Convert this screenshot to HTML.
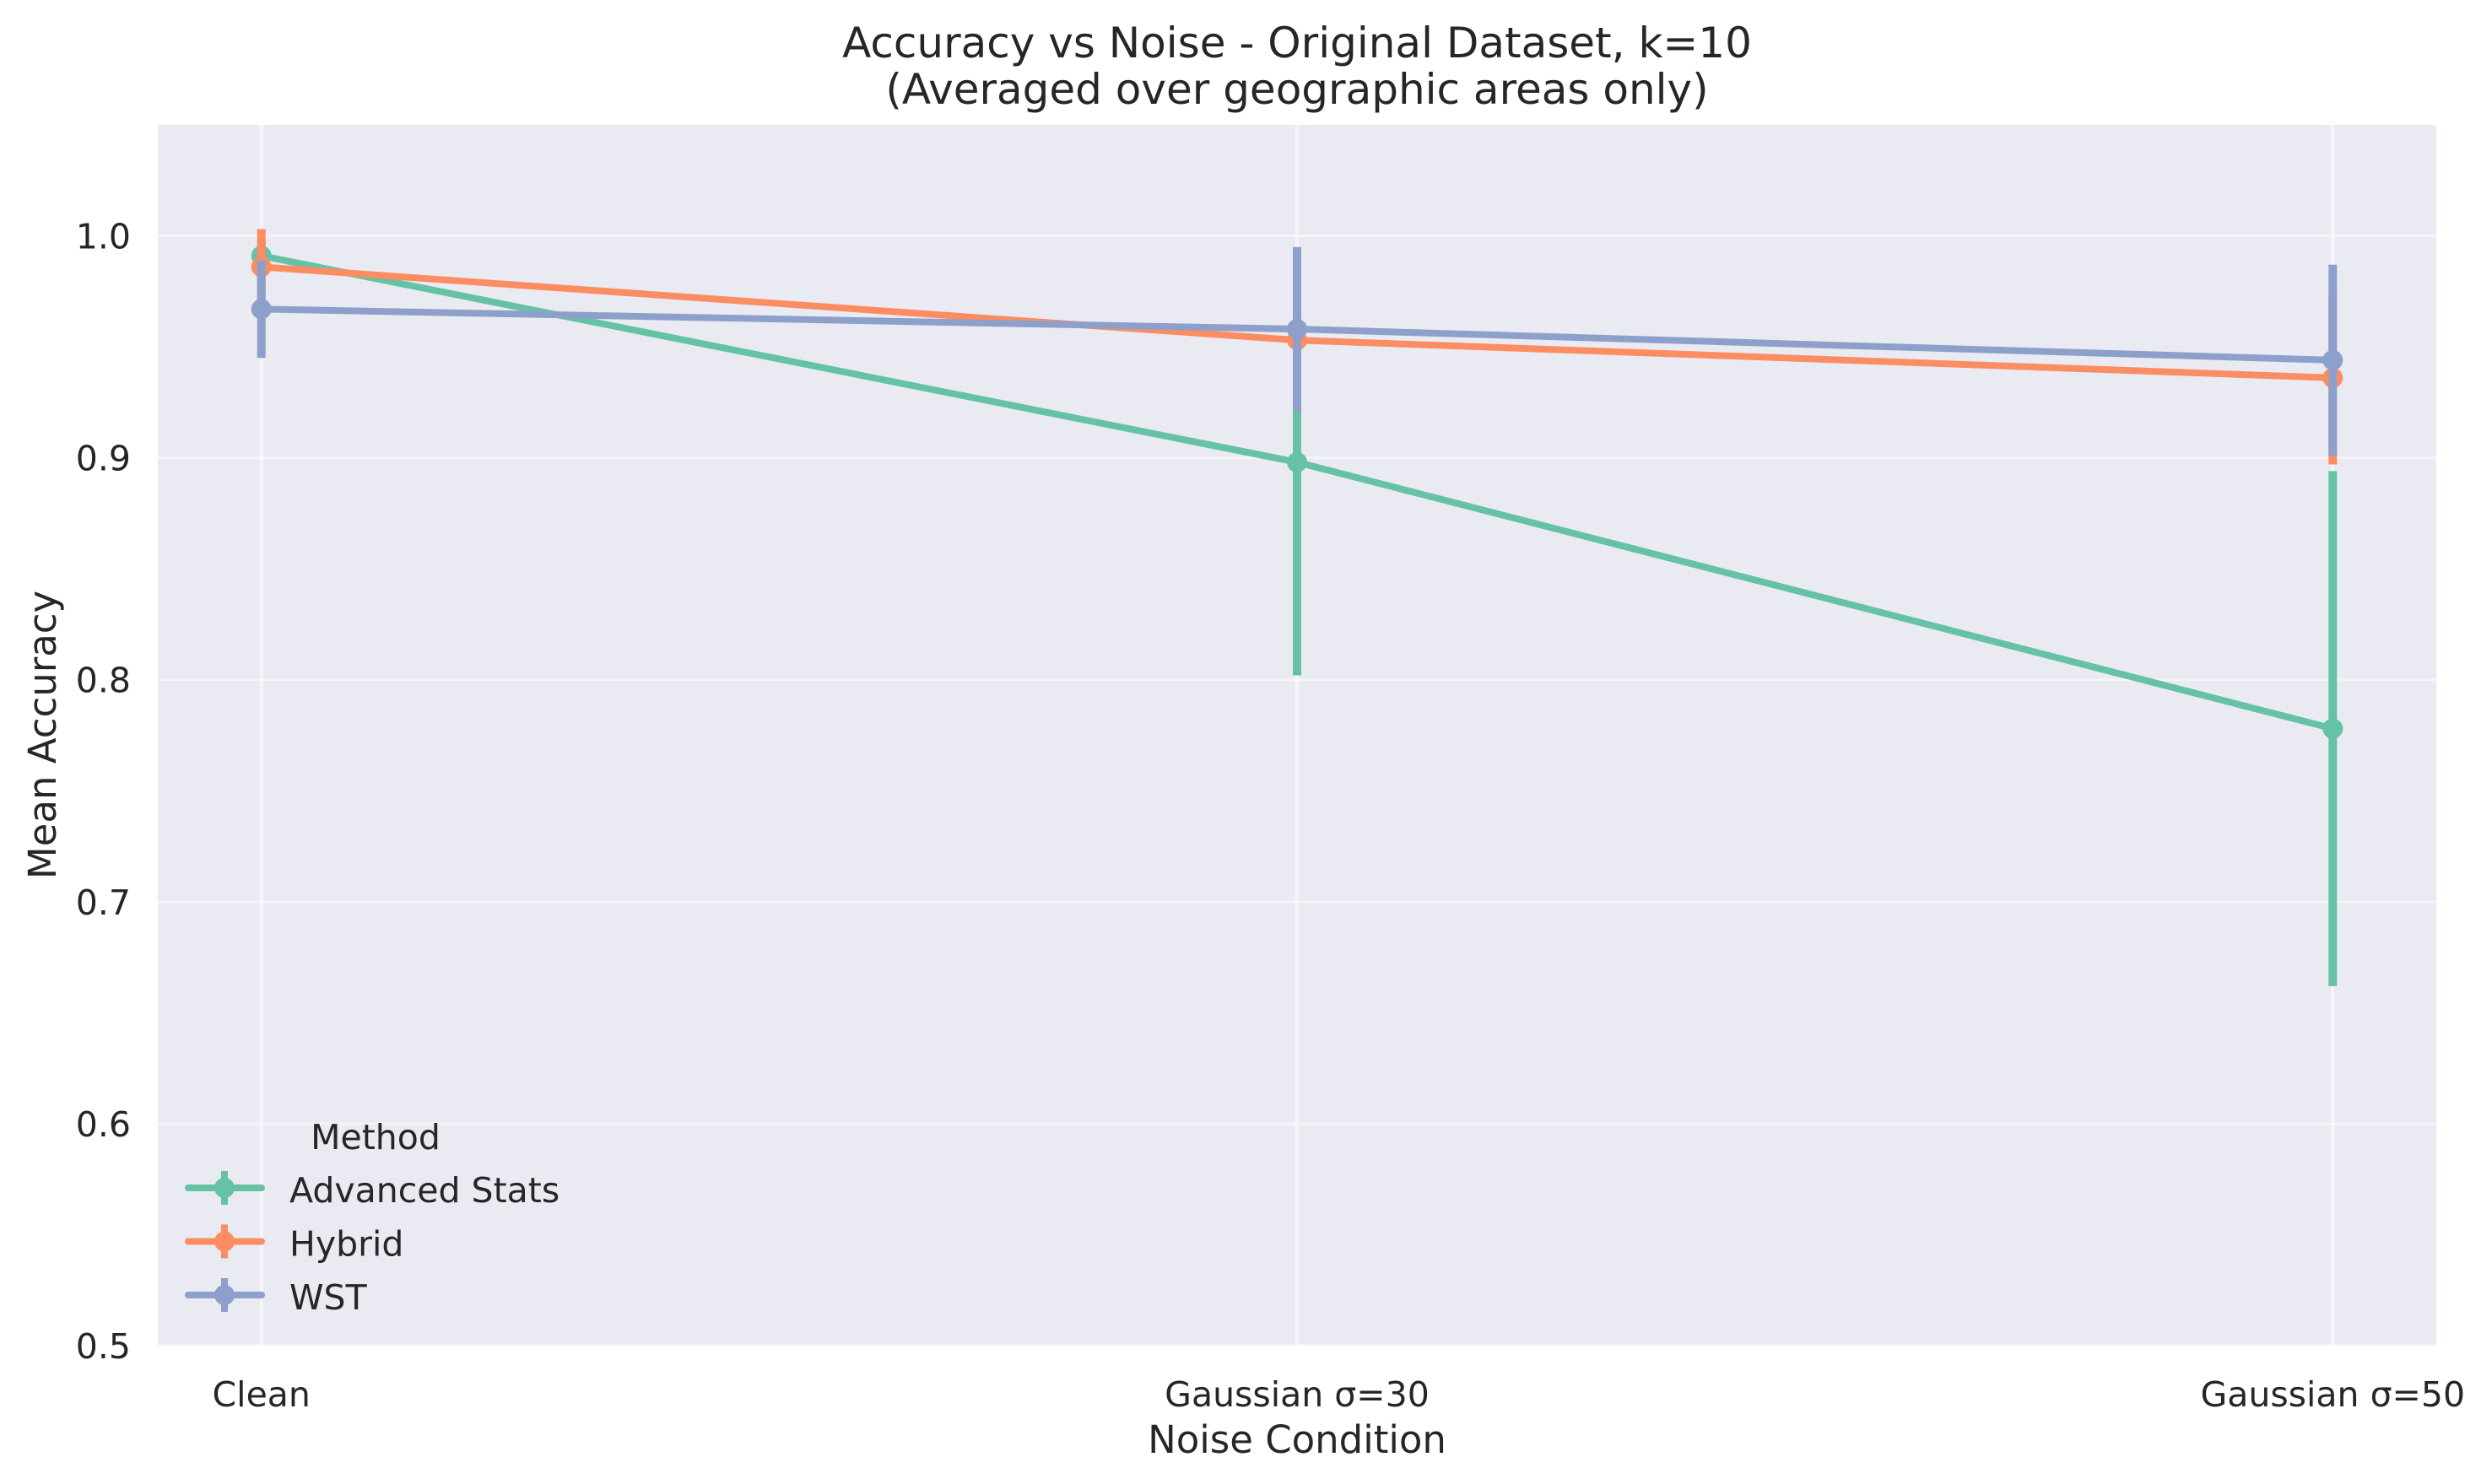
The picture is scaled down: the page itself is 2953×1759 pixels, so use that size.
<!DOCTYPE html>
<html><head><meta charset="utf-8"><style>
body{margin:0;background:#fff}
svg{display:block;font-family:"DejaVu Sans","Liberation Sans",sans-serif;fill:#262626}
</style></head><body>
<svg id="chart" width="2953" height="1759" viewBox="0 0 2953 1759">
<text x="1537" y="68" font-size="50" text-anchor="middle">Accuracy vs Noise - Original Dataset, k=10</text>
<text x="1537" y="123" font-size="50" text-anchor="middle">(Averaged over geographic areas only)</text>
<rect x="187" y="148" width="2700" height="1447" fill="#eaeaf2"/>
<g id="grid"></g>
<g id="yticks" font-size="41"></g>
<g id="xticks" font-size="41"></g>
<text x="1537" y="1722" font-size="45" text-anchor="middle">Noise Condition</text>
<text transform="translate(66,871) rotate(-90)" font-size="45" text-anchor="middle">Mean Accuracy</text>
<g id="series"></g>
<g id="legend" font-size="41"></g>
</svg>
<script>
const categories = ["Clean", "Gaussian σ=30", "Gaussian σ=50"];
const seriesNames = ["Advanced Stats", "Hybrid", "WST"];
const colors = ["#66c2a5", "#fc8d62", "#8da0cb"];
const advMeans = [0.991, 0.898, 0.778];
const advErr = [0.008, 0.096, 0.116];
const hybMeans = [0.986, 0.953, 0.936];
const hybErr = [0.017, 0.026, 0.039];
const wstMeans = [0.967, 0.958, 0.944];
const wstErr = [0.022, 0.037, 0.043];
const yTicks = [0.5, 0.6, 0.7, 0.8, 0.9, 1.0];

const L=187,R=2887,T=148,B=1595;
const xMin=-0.1,xMax=2.1,yMin=0.5,yMax=1.05;
const xs=i=>L+(i-xMin)/(xMax-xMin)*(R-L);
const ys=v=>B-(v-yMin)/(yMax-yMin)*(B-T);
const NS="http://www.w3.org/2000/svg";
function mk(tag,attrs,parent){const e=document.createElementNS(NS,tag);for(const k in attrs)e.setAttribute(k,attrs[k]);parent.appendChild(e);return e;}
const grid=document.getElementById('grid'),yt=document.getElementById('yticks'),xt=document.getElementById('xticks');
yTicks.forEach(v=>{
  const g=mk('line',{x1:L,x2:R,y1:ys(v),y2:ys(v),stroke:'#fff','stroke-opacity':0.5,'stroke-width':3},grid);
  
  
  const t=mk('text',{x:155,y:ys(v)+15,'text-anchor':'end'},yt);t.textContent=v.toFixed(1);
  
  
});
categories.forEach((c,i)=>{
  const g=mk('line',{x1:xs(i),x2:xs(i),y1:T,y2:B,stroke:'#fff','stroke-opacity':0.5,'stroke-width':4},grid);
  
  
  const t=mk('text',{x:xs(i),y:1667,'text-anchor':'middle'},xt);t.textContent=c;
  
  
});
const allMeans=[advMeans,hybMeans,wstMeans],allErr=[advErr,hybErr,wstErr];
const sg=document.getElementById('series');
allMeans.forEach((m,s)=>{
  const g=mk('g',{},sg);
  
  
  m.forEach((v,i)=>{
    const e=mk('line',{x1:xs(i),x2:xs(i),y1:ys(v-allErr[s][i]),y2:ys(v+allErr[s][i]),stroke:colors[s],'stroke-width':10},g);
    
    
  });
  const p=mk('polyline',{points:m.map((v,i)=>xs(i)+','+ys(v)).join(' '),fill:'none',stroke:colors[s],'stroke-width':8,'stroke-linejoin':'round','stroke-linecap':'round'},g);
  
  
  m.forEach((v,i)=>{
    const c=mk('circle',{cx:xs(i),cy:ys(v),r:12,fill:colors[s]},g);
    
    
  });
});
const lg=document.getElementById('legend');
const lt=mk('text',{x:445,y:1362,'text-anchor':'middle'},lg);lt.textContent='Method';


seriesNames.forEach((n,s)=>{
  const y=1408+s*63.5;
  const g=mk('g',{},lg);
  
  
  mk('line',{x1:223,x2:310,y1:y,y2:y,stroke:colors[s],'stroke-width':8,'stroke-linecap':'round'},g);
  mk('line',{x1:266,x2:266,y1:y-20,y2:y+20,stroke:colors[s],'stroke-width':8},g);
  mk('circle',{cx:266,cy:y,r:12,fill:colors[s]},g);
  const t=mk('text',{x:343,y:y+17},g);t.textContent=n;
});
</script>
</body></html>
